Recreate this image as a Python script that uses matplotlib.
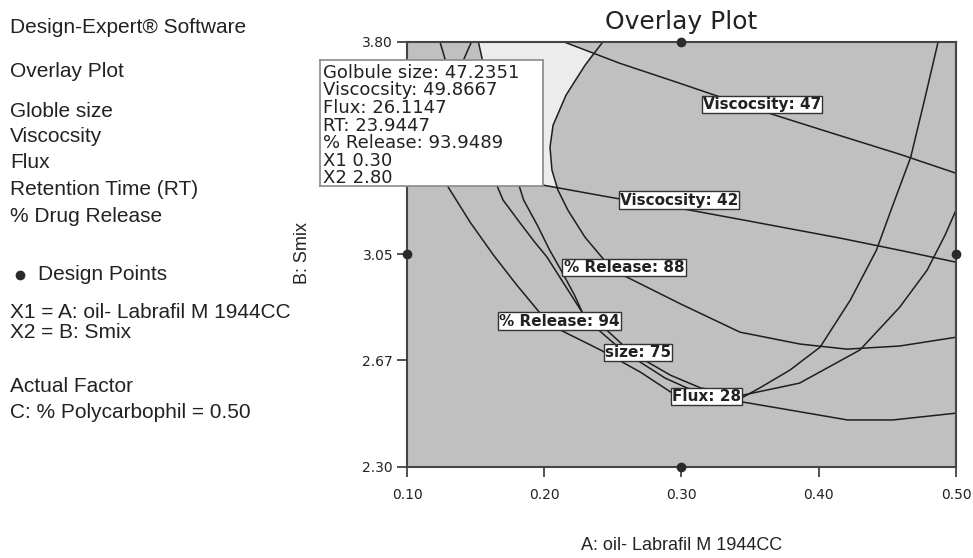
import matplotlib
matplotlib.use("Agg")
import matplotlib.pyplot as plt

# axis ticks (the 3.42 tick sits behind the tooltip, so it is left out)
x_ticks = [0.10, 0.20, 0.30, 0.40, 0.50]
x_tick_labels = ["0.10", "0.20", "0.30", "0.40", "0.50"]
y_ticks = [2.30, 2.675, 3.05, 3.80]
y_tick_labels = ["2.30", "2.67", "3.05", "3.80"]

# contour lines (A: oil, B: Smix)
visc47_x = [0.214, 0.255, 0.299, 0.3135, 0.357, 0.408, 0.459, 0.500]
visc47_y = [3.80, 3.724, 3.653, 3.629, 3.558, 3.480, 3.403, 3.336]

visc42_x = [0.100, 0.199, 0.2515, 0.299, 0.346, 0.4155, 0.459, 0.500]
visc42_y = [3.382, 3.294, 3.248, 3.212, 3.170, 3.107, 3.064, 3.022]

rel88_x = [0.2428, 0.2297, 0.2158, 0.2064, 0.2042, 0.2056, 0.210, 0.2173, 0.2297,
           0.2457, 0.2574, 0.2996, 0.3426, 0.3863, 0.4206, 0.459, 0.500]
rel88_y = [3.80, 3.717, 3.611, 3.505, 3.428, 3.347, 3.276, 3.205, 3.110,
           3.018, 2.976, 2.874, 2.775, 2.733, 2.715, 2.726, 2.757]

rel94_x = [0.124, 0.128, 0.129, 0.129, 0.130, 0.146, 0.163, 0.180, 0.197, 0.209,
           0.241, 0.270, 0.292, 0.317, 0.345, 0.379, 0.421, 0.454, 0.500]
rel94_y = [3.80, 3.734, 3.593, 3.417, 3.287, 3.163, 3.047, 2.941, 2.842, 2.789,
           2.712, 2.634, 2.564, 2.542, 2.528, 2.500, 2.465, 2.465, 2.489]

flux28_x = [0.147, 0.141, 0.139, 0.141, 0.147, 0.157, 0.166, 0.170, 0.182, 0.193,
            0.202, 0.215, 0.228, 0.238, 0.254, 0.270, 0.288, 0.304, 0.324, 0.345,
            0.357, 0.379, 0.401, 0.423, 0.442, 0.454, 0.467, 0.477, 0.487]
flux28_y = [3.80, 3.734, 3.664, 3.558, 3.452, 3.364, 3.287, 3.241, 3.163, 3.093,
            3.040, 2.941, 2.842, 2.789, 2.722, 2.669, 2.613, 2.578, 2.549, 2.546,
            2.578, 2.641, 2.722, 2.888, 3.064, 3.223, 3.392, 3.593, 3.80]

size75_x = [0.152, 0.155, 0.161, 0.168, 0.175, 0.182, 0.185, 0.195, 0.204, 0.213,
            0.222, 0.228, 0.244, 0.259, 0.273, 0.292, 0.314, 0.345,
            0.386, 0.430, 0.459, 0.479, 0.492, 0.500]
size75_y = [3.80, 3.734, 3.593, 3.452, 3.364, 3.287, 3.241, 3.152, 3.064, 2.987,
            2.906, 2.842, 2.789, 2.722, 2.676, 2.623, 2.578, 2.553,
            2.595, 2.712, 2.863, 2.994, 3.117, 3.205]

# feasible (light) window
feas_x = [0.152, 0.214, 0.2355, 0.2297, 0.2158, 0.2064, 0.2042, 0.2056, 0.2086,
          0.199, 0.180, 0.175, 0.168, 0.161, 0.155]
feas_y = [3.80, 3.80, 3.763, 3.717, 3.611, 3.505, 3.428, 3.347, 3.287,
          3.294, 3.311, 3.364, 3.452, 3.593, 3.734]

# contour labels
label_text = ["Viscocsity: 47", "Viscocsity: 42", "% Release: 88",
              "% Release: 94", "size: 75", "Flux: 28"]
label_x = [0.3587, 0.2982, 0.2581, 0.2111, 0.2683, 0.3182]
label_y = [3.579, 3.241, 3.004, 2.814, 2.703, 2.548]

# design points
dp_x = [0.30, 0.10, 0.50, 0.30]
dp_y = [3.80, 3.05, 3.05, 2.30]

tip_lines = ["Golbule size: 47.2351", "Viscocsity: 49.8667", "Flux: 26.1147",
             "RT: 23.9447", "% Release: 93.9489", "X1 0.30", "X2 2.80"]

side_lines = ["Globle size", "Viscocsity", "Flux", "Retention Time (RT)", "% Drug Release"]

fig = plt.figure(figsize=(9.73, 5.58), dpi=100)
ax = fig.add_axes([0.4183, 0.1636, 0.5642, 0.7616])
ax.set_facecolor("#c0c0c0")

ax.fill(feas_x, feas_y, color="#ececec", lw=0, zorder=1)
for cx, cy in [(visc47_x, visc47_y), (visc42_x, visc42_y), (rel88_x, rel88_y),
               (rel94_x, rel94_y), (flux28_x, flux28_y), (size75_x, size75_y)]:
    ax.plot(cx, cy, color="#1e1e1e", lw=1.1, zorder=2)

for s, lx, ly in zip(label_text, label_x, label_y):
    ax.text(lx, ly, s, ha="center", va="center", fontsize=11, fontweight="bold",
            family="DejaVu Sans", color="#222222", zorder=4,
            bbox=dict(boxstyle="square,pad=0.08", fc="white", ec="#333333", lw=1))

ax.plot(dp_x, dp_y, "o", color="#2a2a2a", ms=6, clip_on=False, zorder=6)

ax.set_xlim(0.10, 0.50)
ax.set_ylim(2.30, 3.80)
ax.set_xticks(x_ticks)
ax.set_xticklabels(x_tick_labels)
ax.set_yticks(y_ticks)
ax.set_yticklabels(y_tick_labels)
ax.tick_params(direction="out", length=7, width=1.2, color="#333333",
               labelsize=10, labelcolor="#222222")
ax.tick_params(axis="x", pad=8)
ax.tick_params(axis="y", pad=3)
for sp in ax.spines.values():
    sp.set_color("#444444")
    sp.set_linewidth(1.5)

# tooltip box
tip = fig.add_axes([0.3289, 0.6667, 0.2292, 0.2258])
tip.set_facecolor("white")
tip.set_xticks([])
tip.set_yticks([])
for sp in tip.spines.values():
    sp.set_color("#8a8a8a")
    sp.set_linewidth(1.2)
tip_y = [0.897, 0.758, 0.619, 0.480, 0.341, 0.202, 0.063]
for s, ty in zip(tip_lines, tip_y):
    tip.text(0.013, ty, s, ha="left", va="center", fontsize=13,
             family="DejaVu Sans", color="#222222")

# titles and axis labels
fig.text(0.700, 0.9606, "Overlay Plot", ha="center", va="center", fontsize=18,
         family="DejaVu Sans", color="#222222")
fig.text(0.3114, 0.5466, "B: Smix", ha="center", va="center", rotation=90,
         fontsize=13, family="Liberation Sans", color="#222222")
fig.text(0.700, 0.023, "A: oil- Labrafil M 1944CC", ha="center", va="center",
         fontsize=13, family="Liberation Sans", color="#222222")

# left info panel
lf = dict(ha="left", va="center", fontsize=15, family="Liberation Sans", color="#222222")
fig.text(0.0103, 0.9516, "Design-Expert\u00ae Software", **lf)
fig.text(0.0103, 0.8710, "Overlay Plot", **lf)
for s, yy in zip(side_lines, [0.7993, 0.7545, 0.7079, 0.6595, 0.6129]):
    fig.text(0.0103, yy, s, **lf)
fig.lines.append(plt.Line2D([0.0206], [0.5072], marker="o", ms=6, color="#2a2a2a",
                            transform=fig.transFigure))
fig.text(0.039, 0.5072, "Design Points", **lf)
fig.text(0.0103, 0.4391, "X1 = A: oil- Labrafil M 1944CC", **lf)
fig.text(0.0103, 0.4050, "X2 = B: Smix", **lf)
fig.text(0.0103, 0.3065, "Actual Factor", **lf)
fig.text(0.0103, 0.2599, "C: % Polycarbophil = 0.50", **lf)

fig.savefig("out.png", dpi=100, facecolor="white")
